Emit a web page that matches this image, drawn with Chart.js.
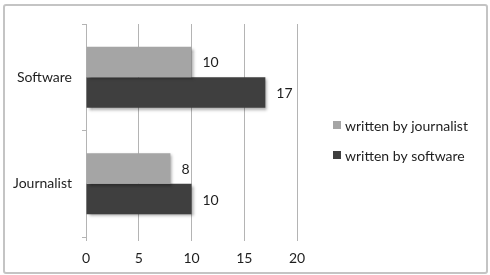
<!DOCTYPE html>
<html>
<head>
<meta charset="utf-8">
<script src="https://cdn.jsdelivr.net/npm/chart.js@4/dist/chart.umd.min.js"></script>
<style>
  html, body { margin: 0; padding: 0; background: #fff; }
  #wrap { position: relative; width: 490px; height: 275px; }
  #frame {
    position: absolute; left: 3px; top: 4px; width: 481px; height: 266px;
    border: 2px solid #c4c4c4; border-radius: 3px; pointer-events: none;
  }
</style>
</head>
<body>
<div id="wrap">
  <canvas id="chart" width="490" height="275"></canvas>
  <div id="frame"></div>
</div>
<script>
const categories = ['Software', 'Journalist'];
const seriesNames = ['written by journalist', 'written by software'];
const journalistValues = [10, 8];
const softwareValues = [17, 10];
const xTicks = [0, 5, 10, 15, 20];

const FONT = 'Lato, "Liberation Sans", sans-serif';
const TEXT = '#1e1e1e';
const GRID = '#b4b4b4';

// soft drop shadow under the bars, like the original
const barShadow = {
  id: 'barShadow',
  beforeDatasetDraw(chart) {
    const ctx = chart.ctx;
    ctx.save();
    ctx.shadowColor = 'rgba(0,0,0,0.35)';
    ctx.shadowBlur = 3;
    ctx.shadowOffsetX = 2;
    ctx.shadowOffsetY = 2;
  },
  afterDatasetDraw(chart) {
    chart.ctx.restore();
  }
};

// value labels to the right of each bar
const valueLabels = {
  id: 'valueLabels',
  afterDatasetsDraw(chart) {
    const ctx = chart.ctx;
    ctx.save();
    ctx.font = '14px ' + FONT;
    ctx.fillStyle = TEXT;
    ctx.textAlign = 'left';
    ctx.textBaseline = 'middle';
    chart.data.datasets.forEach((ds, i) => {
      chart.getDatasetMeta(i).data.forEach((bar, j) => {
        ctx.fillText(String(ds.data[j]), bar.x + 11, bar.y + 1);
      });
    });
    ctx.restore();
  }
};

// legend on the right, drawn by hand so it sits where the original has it
const sideLegend = {
  id: 'sideLegend',
  afterDraw(chart) {
    const ctx = chart.ctx;
    ctx.save();
    ctx.font = '14px ' + FONT;
    ctx.textBaseline = 'middle';
    chart.data.datasets.forEach((ds, i) => {
      const y = 125 + i * 30;
      ctx.fillStyle = ds.backgroundColor;
      ctx.fillRect(333, y - 4, 8, 8);
      ctx.fillStyle = TEXT;
      ctx.fillText(ds.label, 345, y + 1);
    });
    ctx.restore();
  }
};

new Chart(document.getElementById('chart').getContext('2d'), {
  type: 'bar',
  data: {
    labels: categories,
    datasets: [
      {
        label: seriesNames[0],
        data: journalistValues,
        backgroundColor: '#a5a5a5',
        categoryPercentage: 0.575,
        barPercentage: 1
      },
      {
        label: seriesNames[1],
        data: softwareValues,
        backgroundColor: '#3f3f3f',
        categoryPercentage: 0.575,
        barPercentage: 1
      }
    ]
  },
  options: {
    indexAxis: 'y',
    responsive: false,
    animation: false,
    layout: { padding: { top: 24, right: 193, left: 0, bottom: 0 } },
    plugins: {
      legend: { display: false },
      tooltip: { enabled: false }
    },
    scales: {
      x: {
        min: xTicks[0],
        max: xTicks[xTicks.length - 1],
        afterBuildTicks(scale) {
          scale.ticks = xTicks.map(v => ({ value: v }));
        },
        afterFit(scale) { scale.height = 38; },
        grid: { color: GRID, lineWidth: 1, tickLength: 4, drawTicks: true },
        border: { display: false },
        ticks: { color: TEXT, font: { family: FONT, size: 14 }, padding: 9 }
      },
      y: {
        afterFit(scale) { scale.width = 86; },
        grid: { offset: true, drawOnChartArea: false, color: GRID, tickLength: 4 },
        border: { display: true, color: GRID, width: 1 },
        ticks: { color: TEXT, font: { family: FONT, size: 14 }, padding: 10 }
      }
    }
  },
  plugins: [barShadow, valueLabels, sideLegend]
});
</script>
</body>
</html>
